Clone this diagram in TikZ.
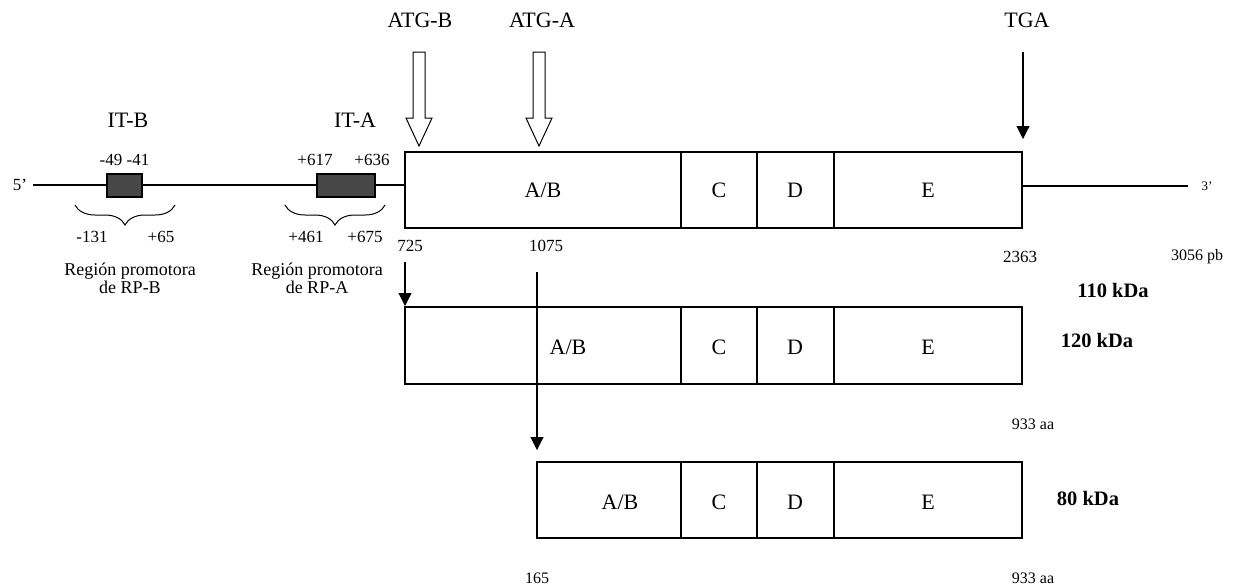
\documentclass[tikz,border=0pt]{standalone}
\usepackage{fontspec}
\setmainfont{Liberation Serif}
\usetikzlibrary{arrows.meta,calc,decorations.pathreplacing}

\begin{document}
\begin{tikzpicture}[x=1pt, y=-1pt, line width=1.1pt,
    lbl/.style={font=\fontsize{22}{24}\selectfont},
    num/.style={font=\fontsize{17}{19}\selectfont},
    tiny/.style={font=\fontsize{16}{18}\selectfont},
    kda/.style={font=\fontsize{20.5}{22}\selectfont\bfseries},
    tip/.style={-{Triangle[width=13pt,length=13pt]}},
    hollow/.style={draw, fill=white, line width=1pt}]

    \useasboundingbox (0,0) rectangle (1241,587);

    % linea del gen 5' -> 3'
    \coordinate (L0) at (33,185);
    \coordinate (L1) at (405,185);
    \coordinate (R0) at (1022,186);
    \coordinate (R1) at (1188,186);
    \draw (L0) -- (L1);
    \draw (R0) -- (R1);
    \node[num] (cinco) at (20,185) {5’};
    \node[tiny, font=\fontsize{13}{15}\selectfont] (tres) at (1207,186) {3’};

    % cajas IT-B e IT-A
    \filldraw[fill=black!72] (107,174) rectangle (142,197);
    \filldraw[fill=black!72] (317,174) rectangle (375,197);
    \node[lbl] (itb) at (128,120) {IT-B};
    \node[lbl] (ita) at (355,120) {IT-A};
    \node[num] (p49) at (111,160) {-49};
    \node[num] (p41) at (138,160) {-41};
    \node[num] (p617) at (315,160) {+617};
    \node[num] (p636) at (372,160) {+636};

    % regiones promotoras
    \draw[line width=1pt, decorate, decoration={brace, mirror, amplitude=20pt}]
        (75,205) -- (175,205);
    \draw[line width=1pt, decorate, decoration={brace, mirror, amplitude=20pt}]
        (285,205) -- (385,205);
    \node[num] (m131) at (92,237) {-131};
    \node[num] (p65) at (161,237) {+65};
    \node[num] (p461) at (306,237) {+461};
    \node[num] (p675) at (365,237) {+675};
    \node[num, font=\fontsize{18}{18}\selectfont, align=center] (rpb) at (130,278)
        {Región promotora\\de RP-B};
    \node[num, font=\fontsize{18}{18}\selectfont, align=center] (rpa) at (317,278)
        {Región promotora\\de RP-A};

    % ARNm: caja principal
    \draw (405,152) rectangle (1022,228);
    \draw (681,152) -- (681,228);
    \draw (757,152) -- (757,228);
    \draw (834,152) -- (834,228);
    \node[lbl] (ab1) at (543,190) {A/B};
    \node[lbl] (c1) at (719,190) {C};
    \node[lbl] (d1) at (795,190) {D};
    \node[lbl] (e1) at (928,190) {E};

    % codones de inicio y de termino
    \node[lbl] (atgb) at (420,20) {ATG-B};
    \node[lbl] (atga) at (542,20) {ATG-A};
    \node[lbl] (tga) at (1027,20) {TGA};
    \draw[hollow] (413,52) -- (425,52) -- (425,118) -- (432,118) -- (419,146)
        -- (406,118) -- (413,118) -- cycle;
    \draw[hollow] (533,52) -- (545,52) -- (545,118) -- (552,118) -- (539,146)
        -- (526,118) -- (533,118) -- cycle;
    \coordinate (T0) at (1023,52);
    \coordinate (T1) at (1023,139);
    \draw[tip] (T0) -- (T1);

    % posiciones en pb
    \node[num] (n725) at (410,246) {725};
    \node[num] (n1075) at (546,246) {1075};
    \node[num] (n2363) at (1020,257) {2363};
    \node[tiny] (n3056) at (1197,257) {3056 pb};

    % proteina de 120 kDa
    \draw (405,307) rectangle (1022,384);
    \draw (681,307) -- (681,384);
    \draw (757,307) -- (757,384);
    \draw (834,307) -- (834,384);
    \node[lbl] (ab2) at (568,347) {A/B};
    \node[lbl] (c2) at (719,347) {C};
    \node[lbl] (d2) at (795,347) {D};
    \node[lbl] (e2) at (928,347) {E};
    \node[kda] (k110) at (1113,290) {110 kDa};
    \node[kda] (k120) at (1097,340) {120 kDa};
    \node[tiny] (aa1) at (1033,424) {933 aa};

    % proteina de 80 kDa
    \draw (537,462) rectangle (1022,538);
    \draw (681,462) -- (681,538);
    \draw (757,462) -- (757,538);
    \draw (834,462) -- (834,538);
    \node[lbl] (ab3) at (620,502) {A/B};
    \node[lbl] (c3) at (719,502) {C};
    \node[lbl] (d3) at (795,502) {D};
    \node[lbl] (e3) at (928,502) {E};
    \node[kda] (k80) at (1088,498) {80 kDa};
    \node[tiny] (n165) at (537,578) {165};
    \node[tiny] (aa2) at (1033,578) {933 aa};

    % flechas de traduccion
    \coordinate (B0) at (405,262);
    \coordinate (B1) at (405,306);
    \coordinate (A0) at (537,272);
    \coordinate (A1) at (537,450);
    \draw[tip] (B0) -- (B1);
    \draw[tip] (A0) -- (A1);

\end{tikzpicture}
\end{document}
